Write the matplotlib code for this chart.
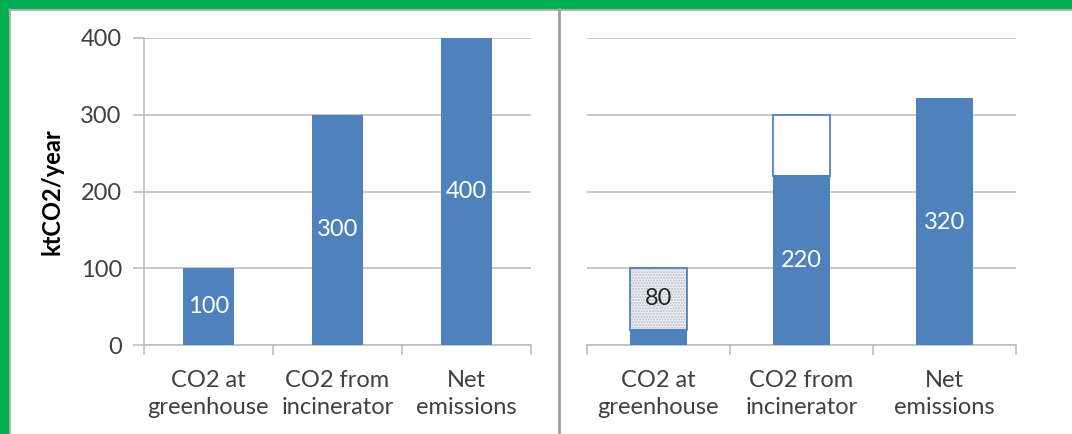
import numpy as np
import matplotlib.pyplot as plt
from matplotlib.patches import Rectangle
from matplotlib.lines import Line2D

plt.rcParams["font.family"] = ["Lato", "DejaVu Sans"]

categories = ["CO2 at\ngreenhouse", "CO2 from\nincinerator", "Net\nemissions"]
left_values = [100, 300, 400]

right_base = [20, 220, 320]
right_dotted = [80, 0, 0]
right_open = [0, 80, 0]
right_labels = ["80", "220", "320"]

blue = "#4F81BD"
grid_c = "#BFBFBF"
text_c = "#404040"
fs = 17

W, H = 1072, 434
fig = plt.figure(figsize=(W / 100, H / 100), dpi=100)

# green frame (top and left only) plus thin gray inner border
fig.patches.append(Rectangle((0, 0), 8 / W, 1, transform=fig.transFigure, color="#00B050", zorder=0))
fig.patches.append(Rectangle((0, 1 - 8 / H), 1, 8 / H, transform=fig.transFigure, color="#00B050", zorder=0))
fig.lines.append(Line2D([9.5 / W, 9.5 / W], [0, 1 - 9 / H], transform=fig.transFigure, color="#A6A6A6", lw=1.2))
fig.lines.append(Line2D([9 / W, 1], [1 - 9.5 / H, 1 - 9.5 / H], transform=fig.transFigure, color="#A6A6A6", lw=1.2))
# divider between the two charts
fig.lines.append(Line2D([559 / W, 559 / W], [0, 1 - 9 / H], transform=fig.transFigure, color="#A0A0A0", lw=2))

y0, y1 = 1 - 345 / H, 1 - 38 / H
axL = fig.add_axes([144 / W, y0, (531 - 144) / W, y1 - y0])
axR = fig.add_axes([587 / W, y0, (1016 - 587) / W, y1 - y0])

x = np.arange(len(categories))
bw = 0.4

# left chart
axL.bar(x, left_values, width=bw, color=blue, zorder=3)
for xi, v in zip(x, left_values):
    axL.text(xi, v / 2, str(v), ha="center", va="center", color="white", fontsize=fs, zorder=4)

# right chart
axR.bar(x, right_base, width=bw, color=blue, zorder=3)
axR.bar(x, right_dotted, width=bw, bottom=right_base, color="#EEF0F3",
        edgecolor="#B8BEC8", hatch="......", linewidth=0, zorder=3)
axR.bar(x, right_dotted, width=bw, bottom=right_base, fill=False,
        edgecolor=blue, linewidth=1.3, zorder=4)
axR.bar(x, right_open, width=bw, bottom=right_base, color="white",
        edgecolor=blue, linewidth=1.3, zorder=3)
axR.text(x[0], right_base[0] + right_dotted[0] / 2, right_labels[0], ha="center", va="center",
         color="#262626", fontsize=fs, zorder=5)
for i in (1, 2):
    axR.text(x[i], right_base[i] / 2, right_labels[i], ha="center", va="center",
             color="white", fontsize=fs, zorder=5)

for ax in (axL, axR):
    ax.set_xlim(-0.5, 2.5)
    ax.set_ylim(0, 400)
    ax.set_yticks([0, 100, 200, 300, 400])
    ax.yaxis.grid(True, color=grid_c, lw=1.2, zorder=0)
    ax.set_axisbelow(True)
    for s in ("top", "right"):
        ax.spines[s].set_visible(False)
    ax.spines["bottom"].set_color(grid_c)
    ax.spines["bottom"].set_linewidth(1.2)
    ax.set_xticks(x)
    ax.set_xticklabels(categories, fontsize=fs, color=text_c, linespacing=1.35)
    ax.set_xticks([-0.5, 0.5, 1.5, 2.5], minor=True)
    ax.tick_params(axis="x", which="major", length=0, pad=18)
    ax.tick_params(axis="x", which="minor", length=7, width=1.2, color=grid_c)

axL.spines["left"].set_color(grid_c)
axL.spines["left"].set_linewidth(1.2)
axL.tick_params(axis="y", length=8, width=1.2, color=grid_c, labelsize=fs, labelcolor=text_c, pad=8)
axL.set_ylabel("ktCO2/year", fontsize=fs, fontweight="bold", color="black", labelpad=12)

axR.spines["left"].set_visible(False)
axR.tick_params(axis="y", length=0, labelleft=False)

fig.savefig("out.png", dpi=100)
